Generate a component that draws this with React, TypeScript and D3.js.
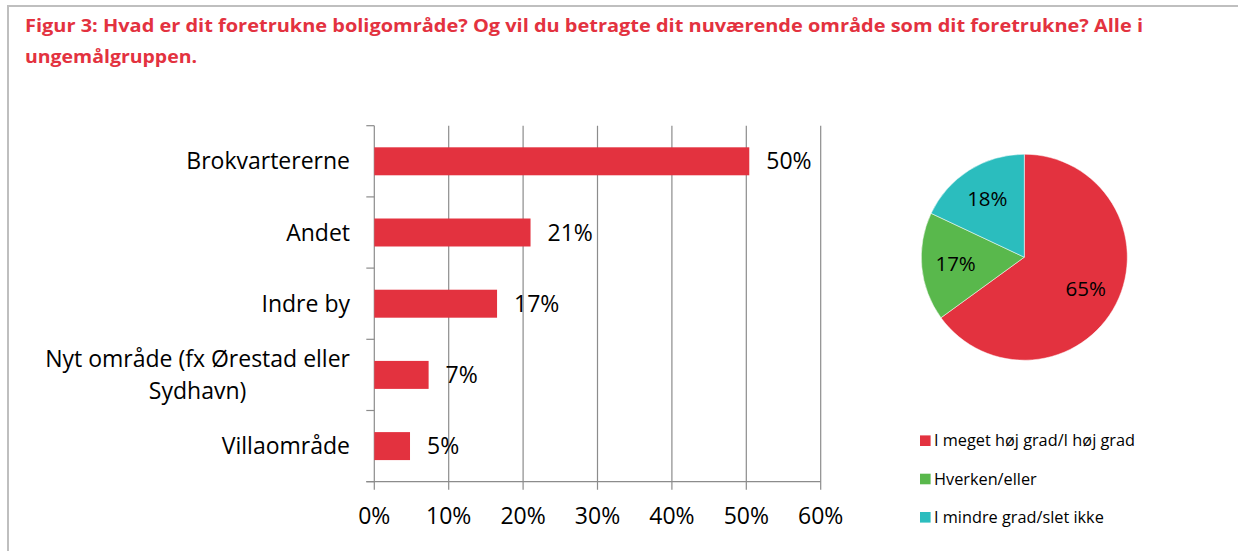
import React, { useLayoutEffect, useRef, useState } from 'react';
import * as d3 from 'd3';

// chart values
const titleLines = [
  'Figur 3: Hvad er dit foretrukne boligområde? Og vil du betragte dit nuværende område som dit foretrukne? Alle i',
  'ungemålgruppen.',
];
const categories = ['Brokvartererne', 'Andet', 'Indre by', 'Nyt område', 'Villaområde'];
const categoryLines = [
  ['Brokvartererne'],
  ['Andet'],
  ['Indre by'],
  ['Nyt område (fx Ørestad eller', 'Sydhavn)'],
  ['Villaområde'],
];
const shares = [0.504, 0.21, 0.165, 0.073, 0.048];
const shareLabels = ['50%', '21%', '17%', '7%', '5%'];
const xTicks = [0, 0.1, 0.2, 0.3, 0.4, 0.5, 0.6];

const pieGroups = ['I meget høj grad/I høj grad', 'Hverken/eller', 'I mindre grad/slet ikke'];
const pieValues = [65, 17, 18];
const pieLabels = ['65%', '17%', '18%'];
const pieColors = ['#E3323F', '#59B84C', '#2BBDBE'];

const RED = '#E3323F';
const GRID = '#8c8c8c';
const FONT = "'Open Sans', 'Noto Sans', sans-serif";
const FS = 23;

function App() {
  const firstLineRef = useRef<SVGTextElement | null>(null);
  const [wrapWidth, setWrapWidth] = useState(0);

  useLayoutEffect(() => {
    if (firstLineRef.current) setWrapWidth(firstLineRef.current.getComputedTextLength());
  }, []);

  // bar chart scales
  const plot = { left: 374.3, right: 820.7, top: 125.7, bottom: 481.7 };
  const x = d3.scaleLinear().domain([0, 0.6]).range([plot.left, plot.right]);
  const y = d3
    .scaleBand<string>()
    .domain(categories)
    .range([plot.top, plot.bottom])
    .paddingInner(0.607)
    .paddingOuter(0.3035);
  const step = y.step();
  const gap = (step - y.bandwidth()) / 2;
  const boundaries = categories.map(c => (y(c) as number) - gap).concat([plot.bottom]);
  const labelRight = 350;
  const dyMid = 8;

  // pie
  const cx = 1024.3;
  const cy = 257.2;
  const r = 103;
  const pieGen = d3.pie<number>().sort(null).value(d => d);
  const arcs = pieGen(pieValues);
  const arcGen = d3.arc<d3.PieArcDatum<number>>().innerRadius(0).outerRadius(r);
  const labelArc = d3.arc<d3.PieArcDatum<number>>().innerRadius(r * 0.67).outerRadius(r * 0.67);

  const legendY = [440.7, 479, 517.3];

  return (
    <div style={{ position: 'absolute', left: 0, top: 0 }}>
      <svg width={1238} height={551} style={{ display: 'block', background: '#fff' }} fontFamily={FONT}>
        {/* frame */}
        <line x1={7} x2={1238} y1={6} y2={6} stroke="#bfbfbf" strokeWidth={2} />
        <line x1={8} x2={8} y1={5} y2={551} stroke="#bfbfbf" strokeWidth={2} />

        {/* title */}
        {titleLines.map((t, i) => (
          <text
            key={i}
            x={25}
            y={32 + i * 30.5}
            fill={RED}
            fontWeight="bold"
            fontSize={18.5}
            textLength={i === 0 ? 1118 : 172}
            lengthAdjust="spacingAndGlyphs"
          >
            {t}
          </text>
        ))}

        {/* gridlines + x axis */}
        {xTicks.map(t => (
          <g key={t}>
            <line x1={x(t)} x2={x(t)} y1={plot.top} y2={plot.bottom + 8} stroke={GRID} strokeWidth={1.2} />
            <text x={x(t)} y={524} textAnchor="middle" fontSize={FS} fill="#000">
              {Math.round(t * 100) + '%'}
            </text>
          </g>
        ))}
        <line x1={plot.left - 8} x2={plot.right} y1={plot.bottom} y2={plot.bottom} stroke={GRID} strokeWidth={1.2} />
        {boundaries.map((b, i) => (
          <line key={i} x1={plot.left - 8} x2={plot.left} y1={b} y2={b} stroke={GRID} strokeWidth={1.2} />
        ))}

        {/* bars */}
        {categories.map((c, i) => (
          <g key={c}>
            <rect
              x={x(0)}
              y={y(c)}
              width={x(shares[i]) - x(0)}
              height={y.bandwidth()}
              fill={RED}
            />
            <text
              x={x(shares[i]) + 17}
              y={(y(c) as number) + y.bandwidth() / 2 + dyMid}
              fontSize={FS}
              fill="#000"
            >
              {shareLabels[i]}
            </text>
          </g>
        ))}

        {/* category labels */}
        {categories.map((c, i) => {
          const lines = categoryLines[i];
          const mid = (y(c) as number) + y.bandwidth() / 2;
          if (lines.length === 1) {
            return (
              <text key={c} x={labelRight} y={mid + dyMid} textAnchor="end" fontSize={FS} fill="#000">
                {lines[0]}
              </text>
            );
          }
          return (
            <g key={c}>
              <text ref={firstLineRef} x={labelRight} y={mid - 16 + dyMid} textAnchor="end" fontSize={FS} fill="#000">
                {lines[0]}
              </text>
              <text
                x={labelRight - wrapWidth / 2}
                y={mid + 16 + dyMid}
                textAnchor="middle"
                fontSize={FS}
                fill="#000"
              >
                {lines[1]}
              </text>
            </g>
          );
        })}

        {/* pie */}
        <g transform={`translate(${cx},${cy})`}>
          {arcs.map((a, i) => (
            <path key={i} d={arcGen(a) || ''} fill={pieColors[i]} stroke="#fff" strokeWidth={0.5} />
          ))}
          {arcs.map((a, i) => {
            const [lx, ly] = labelArc.centroid(a);
            return (
              <text key={i} x={lx} y={ly + 7} textAnchor="middle" fontSize={20.5} fill="#000">
                {pieLabels[i]}
              </text>
            );
          })}
        </g>

        {/* legend */}
        {pieGroups.map((g, i) => (
          <g key={g}>
            <rect x={920} y={legendY[i] - 5.3} width={10.6} height={10.6} fill={pieColors[i]} />
            <text x={934} y={legendY[i] + 5.5} fontSize={16.3} fill="#000">
              {g}
            </text>
          </g>
        ))}
      </svg>
    </div>
  );
}

export default App;
